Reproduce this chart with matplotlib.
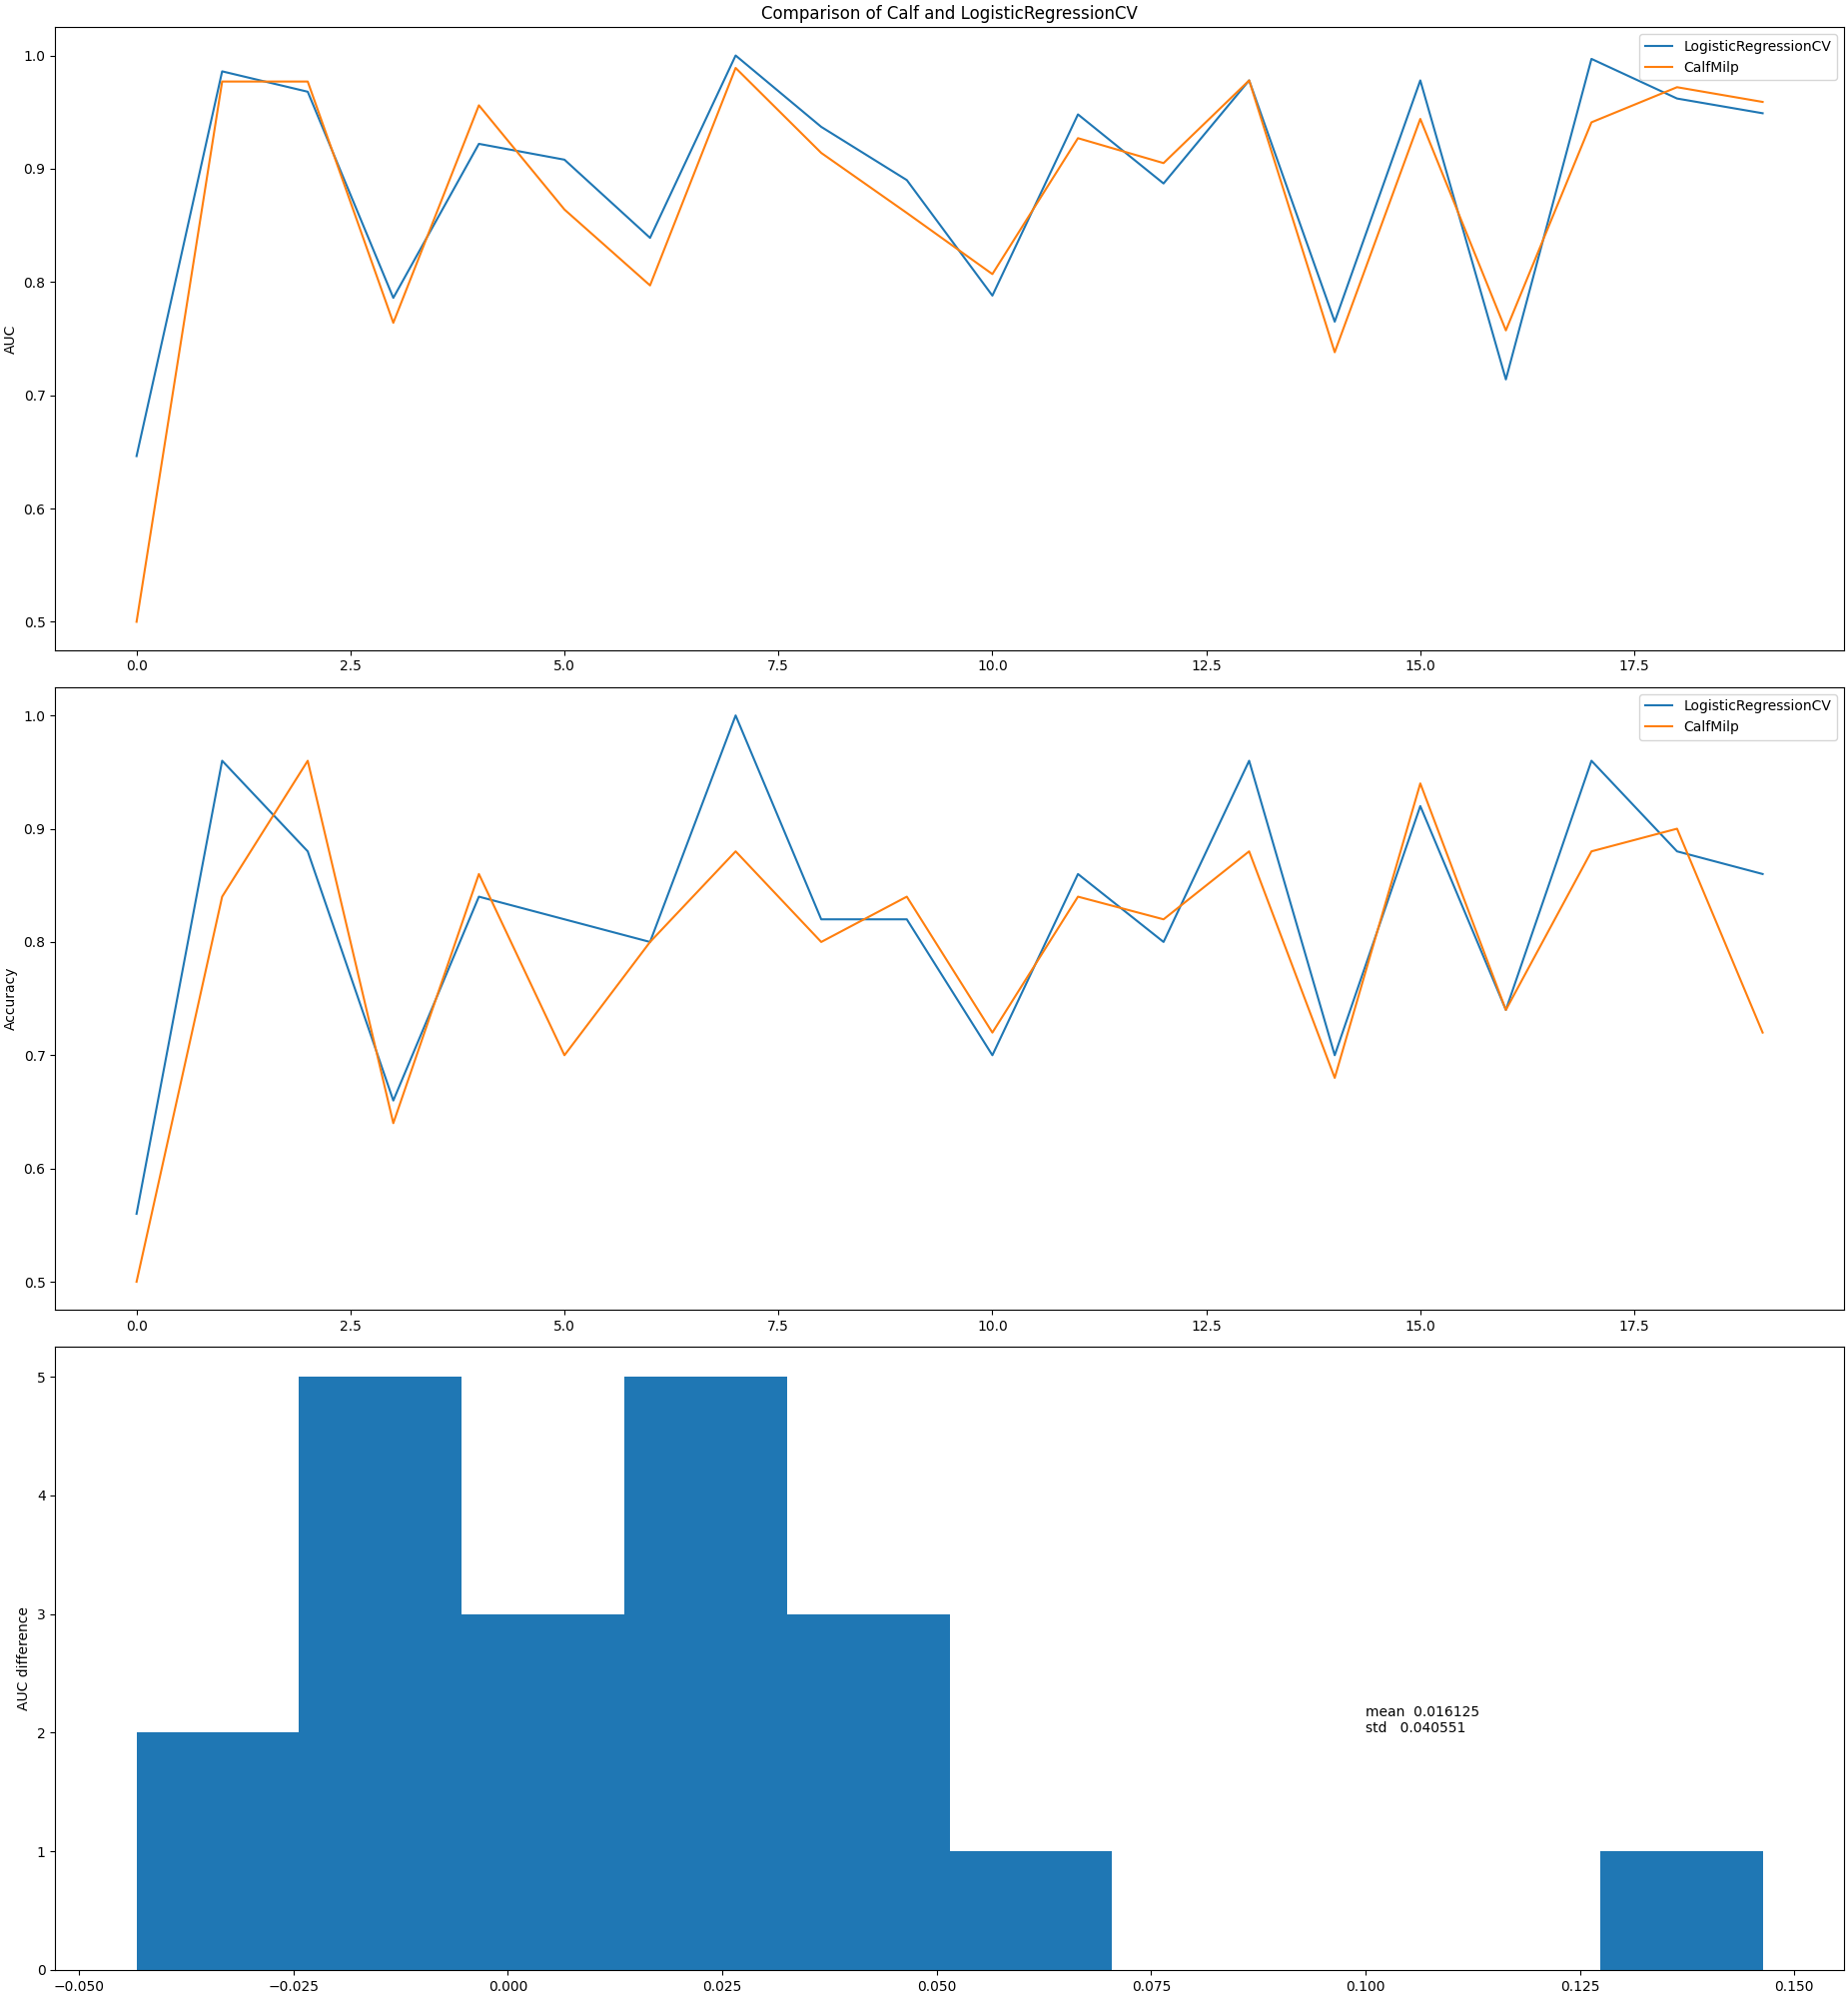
import numpy as np
import matplotlib
matplotlib.use("Agg")
import matplotlib.pyplot as plt


# ── data ──────────────────────────────────────────────────────────────────────

runs = list(range(20))

auc_lr = [0.6463, 0.986, 0.968, 0.786, 0.922, 0.908, 0.839, 1.0, 0.937, 0.890,
          0.788, 0.948, 0.887, 0.978, 0.765, 0.978, 0.714, 0.997, 0.962, 0.949]
auc_calf = [0.5, 0.977, 0.977, 0.764, 0.956, 0.864, 0.797, 0.989, 0.914, 0.861,
            0.807, 0.927, 0.905, 0.978, 0.738, 0.944, 0.7573, 0.941, 0.972, 0.959]

acc_lr = [0.56, 0.96, 0.88, 0.66, 0.84, 0.82, 0.80, 1.0, 0.82, 0.82,
          0.70, 0.86, 0.80, 0.96, 0.70, 0.92, 0.74, 0.96, 0.88, 0.86]
acc_calf = [0.50, 0.84, 0.96, 0.64, 0.86, 0.70, 0.80, 0.88, 0.80, 0.84,
            0.72, 0.84, 0.82, 0.88, 0.68, 0.94, 0.74, 0.88, 0.90, 0.72]

diff_mean = "0.016125"
diff_std = "0.040551"


# ── plot ──────────────────────────────────────────────────────────────────────

fig, axes = plt.subplots(3, 1, figsize=(18.5, 20), dpi=100)
fig.subplots_adjust(left=0.0299, right=0.9978, top=0.9864, bottom=0.014,
                    hspace=0.0594)

ax = axes[0]
ax.plot(runs, auc_lr, label="LogisticRegressionCV")
ax.plot(runs, auc_calf, label="CalfMilp")
ax.set_title("Comparison of Calf and LogisticRegressionCV")
ax.set_ylabel("AUC")
ax.legend(loc="upper right")

ax = axes[1]
ax.plot(runs, acc_lr, label="LogisticRegressionCV")
ax.plot(runs, acc_calf, label="CalfMilp")
ax.set_ylabel("Accuracy")
ax.legend(loc="upper right")

ax = axes[2]
diff = np.array(auc_lr) - np.array(auc_calf)
ax.hist(diff, bins=10)
ax.set_ylabel("AUC difference")
ax.text(0.1, 2, f"mean  {diff_mean}\nstd   {diff_std}")

plt.savefig("out.png", dpi=100)
